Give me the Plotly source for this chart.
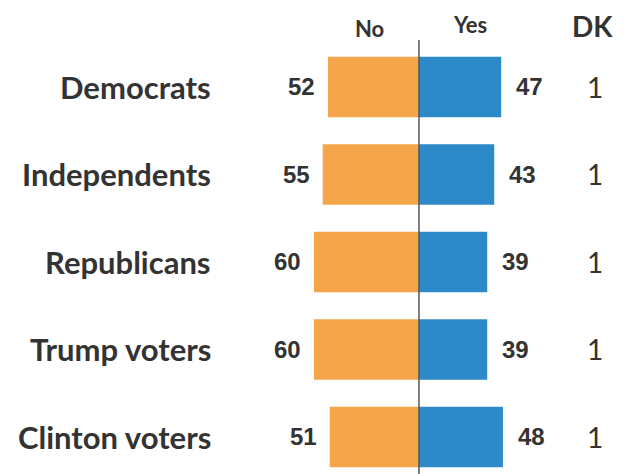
import plotly.graph_objects as go

groups = ["Democrats", "Independents", "Republicans", "Trump voters", "Clinton voters"]
no_vals = [52, 55, 60, 60, 51]
yes_vals = [47, 43, 39, 39, 48]
dk_vals = [1, 1, 1, 1, 1]

ORANGE = "#F5A54A"
BLUE = "#2C8AC8"
INK = "#333333"
LABEL_FONT = "Lato"

rows = list(range(len(groups)))

fig = go.Figure()
fig.add_trace(go.Bar(
    y=rows, x=[-v for v in no_vals], orientation="h",
    marker=dict(color=ORANGE, line=dict(width=0)), width=0.69,
    hoverinfo="skip", name="No",
))
fig.add_trace(go.Bar(
    y=rows, x=yes_vals, orientation="h",
    marker=dict(color=BLUE, line=dict(width=0)), width=0.69,
    hoverinfo="skip", name="Yes",
))

annotations = []
for r, g, n, y, d in zip(rows, groups, no_vals, yes_vals, dk_vals):
    annotations.append(dict(x=-117.7, y=r, text=f"<b>{g}</b>", xanchor="right",
                            showarrow=False, font=dict(family=LABEL_FONT, size=31, color=INK)))
    annotations.append(dict(x=-n, y=r, text=f"<b>{n}</b>", xanchor="right", xshift=-11,
                            showarrow=False, font=dict(family="Liberation Sans", size=24, color=INK)))
    annotations.append(dict(x=y, y=r, text=f"<b>{y}</b>", xanchor="left", xshift=13,
                            showarrow=False, font=dict(family="Liberation Sans", size=24, color=INK)))
    annotations.append(dict(x=100.6, y=r, text=str(d), xanchor="center",
                            showarrow=False, font=dict(family=LABEL_FONT, size=28, color=INK)))

annotations += [
    dict(x=-28.0, y=-0.669, text="<b>No</b>", showarrow=False,
         font=dict(family=LABEL_FONT, size=22, color=INK)),
    dict(x=29.1, y=-0.709, text="<b>Yes</b>", showarrow=False,
         font=dict(family=LABEL_FONT, size=22, color=INK)),
    dict(x=99.4, y=-0.697, text="<b>DK</b>", showarrow=False,
         font=dict(family=LABEL_FONT, size=28, color=INK)),
]

fig.update_layout(
    width=626, height=474,
    margin=dict(l=0, r=0, t=0, b=0),
    paper_bgcolor="white", plot_bgcolor="white",
    barmode="overlay", showlegend=False,
    xaxis=dict(range=[-239.4, 118.3], visible=False, fixedrange=True),
    yaxis=dict(range=[4.423, -0.994], visible=False, fixedrange=True),
    annotations=annotations,
    shapes=[dict(type="line", xref="x", yref="paper", x0=0, x1=0,
                 y0=0, y1=1 - 40 / 474, line=dict(color="#555555", width=1.5))],
)

fig.write_html("out.html")
